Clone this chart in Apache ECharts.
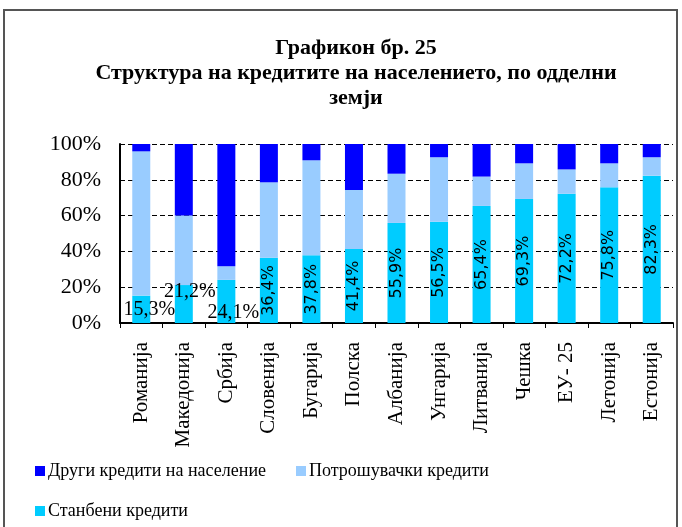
<!DOCTYPE html>
<html>
<head>
<meta charset="utf-8">
<script src="https://cdn.jsdelivr.net/npm/echarts@6/dist/echarts.min.js"></script>
<style>
  html, body { margin: 0; padding: 0; background: #fff; }
  #chart { width: 682px; height: 527px; }
</style>
</head>
<body>
<div id="chart"></div>
<script>
const countries = ['Романија', 'Македонија', 'Србија', 'Словенија', 'Бугарија', 'Полска', 'Албанија', 'Унгарија', 'Литванија', 'Чешка', 'ЕУ- 25', 'Летонија', 'Естонија']
const housing = [15.3, 21.2, 24.1, 36.4, 37.8, 41.4, 55.9, 56.5, 65.4, 69.3, 72.2, 75.8, 82.3]
const consumer = [80.6, 38.9, 7.6, 42.2, 53.1, 32.9, 27.5, 36.1, 16.4, 19.9, 13.6, 13.4, 10.3]
const other = [4.1, 39.9, 68.3, 21.4, 9.1, 25.7, 16.6, 7.4, 18.2, 10.8, 14.2, 10.8, 7.4]

const seriesNames = ['Други кредити на население', 'Потрошувачки кредити', 'Станбени кредити']
const serif = 'Liberation Serif'

// the first three labels sit horizontally, a bit off the bar like in the original
const labelTweaks = {
    0: { rotate: 0, offset: [8, 0], fontFamily: serif, fontSize: 20 },
    1: { rotate: 0, offset: [6, -12], fontFamily: serif, fontSize: 20 },
    2: { rotate: 0, offset: [7, 11], fontFamily: serif, fontSize: 20 }
}

const fmt = v => v.toFixed(1).replace('.', ',') + '%'

const housingData = housing.map((v, i) => {
    if (labelTweaks[i]) {
        return { value: v, label: labelTweaks[i] }
    }
    return v
})

const chart = echarts.init(document.getElementById('chart'))

chart.setOption({
    animation: false,
    title: {
        text: 'Графикон бр. 25\nСтруктура на кредитите на населението, по одделни\nземји',
        left: 351,
        top: 31,
        textAlign: 'center',
        textStyle: {
            fontFamily: serif,
            fontWeight: 'bold',
            fontSize: 22,
            lineHeight: 25,
            color: '#000'
        }
    },
    graphic: [{
        type: 'rect',
        shape: { x: 4, y: 10, width: 673, height: 530 },
        style: { fill: 'none', stroke: '#555', lineWidth: 2 },
        silent: true
    }],
    legend: [{
        data: [seriesNames[0], seriesNames[1]],
        left: 30,
        top: 457,
        itemWidth: 10,
        itemHeight: 10,
        itemGap: 30,
        icon: 'rect',
        textStyle: { fontFamily: serif, fontSize: 18, color: '#000', padding: [0, 0, 0, -2] }
    }, {
        data: [seriesNames[2]],
        left: 30,
        top: 497,
        itemWidth: 10,
        itemHeight: 10,
        icon: 'rect',
        textStyle: { fontFamily: serif, fontSize: 18, color: '#000', padding: [0, 0, 0, -2] }
    }],
    grid: {
        left: 120,
        right: 9,
        top: 144,
        bottom: 204
    },
    xAxis: {
        type: 'category',
        data: countries,
        axisLine: { lineStyle: { color: '#000', width: 2 } },
        axisTick: { show: true, length: 5, lineStyle: { color: '#000' } },
        axisLabel: {
            rotate: 90,
            interval: 0,
            margin: 19,
            fontFamily: serif,
            fontSize: 21,
            color: '#000'
        }
    },
    yAxis: {
        type: 'value',
        min: 0,
        max: 100,
        interval: 20,
        axisLine: { show: true, lineStyle: { color: '#000', width: 2 } },
        axisTick: { show: false },
        splitLine: { lineStyle: { color: '#000', type: [5, 3], width: 1 } },
        axisLabel: {
            formatter: '{value}%',
            margin: 19,
            fontFamily: serif,
            fontSize: 22,
            color: '#000'
        }
    },
    series: [{
        name: seriesNames[2],
        type: 'bar',
        stack: 'total',
        barWidth: 18,
        data: housingData,
        itemStyle: { color: '#00CCFF' },
        label: {
            show: true,
            position: 'inside',
            rotate: 90,
            formatter: p => fmt(p.value),
            fontFamily: 'DejaVu Sans',
            fontSize: 16,
            color: '#000'
        }
    }, {
        name: seriesNames[1],
        type: 'bar',
        stack: 'total',
        barWidth: 18,
        data: consumer,
        itemStyle: { color: '#99CCFF' }
    }, {
        name: seriesNames[0],
        type: 'bar',
        stack: 'total',
        barWidth: 18,
        data: other,
        itemStyle: { color: '#0000FF' }
    }]
})
</script>
</body>
</html>
